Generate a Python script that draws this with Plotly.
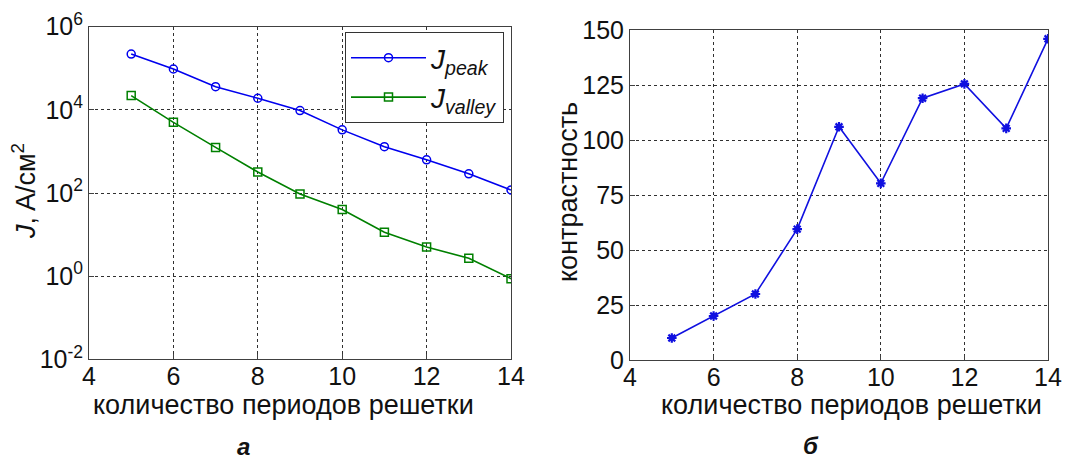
import plotly.graph_objects as go

periods = [5, 6, 7, 8, 9, 10, 11, 12, 13, 14]
j_peak = [2.2e5, 9.6e4, 3.6e4, 1.9e4, 9.6e3, 3.3e3, 1.3e3, 630, 290, 118]
j_valley = [2.2e4, 5.0e3, 1.25e3, 320, 95, 40, 11.4, 5.0, 2.7, 0.87]
contrast = [10, 20, 30, 59.5, 106, 80.3, 119, 125.5, 105.3, 146]

log_tickvals = [1e-2, 1, 1e2, 1e4, 1e6]
log_ticktext = ["10<sup>-2</sup>", "10<sup>0</sup>", "10<sup>2</sup>", "10<sup>4</sup>", "10<sup>6</sup>"]
x_ticks = [4, 6, 8, 10, 12, 14]
lin_ticks = [0, 25, 50, 75, 100, 125, 150]

x_title = "количество периодов решетки"
y1_title = "<i>J</i>, A/см<sup>2</sup>"
y2_title = "контрастность"

FONT = "Liberation Sans, Arial, sans-serif"
W, H = 1066, 460
TICK = 25
TITLE = 27
INK = "#111111"

fig = go.Figure()

fig.add_trace(go.Scatter(
    x=periods, y=j_peak, mode="lines+markers", name="<i>J<sub>peak</sub></i>",
    line=dict(color="#0000ee", width=1.6),
    marker=dict(symbol="circle-open", size=8, color="#0000ee", line=dict(width=1.5)),
    xaxis="x", yaxis="y"))
fig.add_trace(go.Scatter(
    x=periods, y=j_valley, mode="lines+markers", name="<i>J<sub>valley</sub></i>",
    line=dict(color="#008000", width=1.6),
    marker=dict(symbol="square-open", size=8, color="#008000", line=dict(width=1.5)),
    xaxis="x", yaxis="y"))
fig.add_trace(go.Scatter(
    x=periods, y=contrast, mode="lines+markers", showlegend=False,
    line=dict(color="#1010e0", width=1.6),
    marker=dict(symbol="asterisk-open", size=8, color="#1010e0", line=dict(width=2.2, color="#1010e0")),
    xaxis="x2", yaxis="y2"))

axis_common = dict(
    showline=True, mirror=True, linecolor="#404040", linewidth=1,
    showgrid=True, gridcolor="#303030", griddash="dot", gridwidth=1,
    ticks="inside", ticklen=5, tickcolor="#404040",
    zeroline=False, automargin=False,
    tickfont=dict(family=FONT, size=TICK, color=INK),
)
xaxis_extra = dict(ticklabelstandoff=-5)


def ann(text, x, y, size=TITLE, angle=0):
    return dict(text=text, x=x / W, y=1 - y / H, xref="paper", yref="paper",
                xanchor="center", yanchor="middle", showarrow=False, textangle=angle,
                font=dict(family=FONT, size=size, color=INK))


fig.update_layout(
    width=W, height=H,
    margin=dict(l=0, r=0, t=0, b=0),
    paper_bgcolor="white", plot_bgcolor="white",
    font=dict(family=FONT, size=22, color=INK),
    xaxis=dict(domain=[89 / W, 511 / W], range=[4, 14], tickvals=x_ticks, anchor="y",
               **axis_common, **xaxis_extra),
    yaxis=dict(domain=[1 - 359.3 / H, 1 - 26.7 / H], type="log", range=[-2, 6],
               tickvals=log_tickvals, ticktext=log_ticktext, anchor="x",
               **axis_common),
    xaxis2=dict(domain=[630 / W, 1048 / W], range=[4, 14], tickvals=x_ticks, anchor="y2",
                **axis_common, **xaxis_extra),
    yaxis2=dict(domain=[1 - 360 / H, 1 - 30 / H], range=[0, 150], tickvals=lin_ticks, anchor="x2",
                **axis_common),
    legend=dict(x=345 / W, y=1 - 32 / H, xanchor="left", yanchor="top",
                bgcolor="white", bordercolor="#333333", borderwidth=1,
                font=dict(family=FONT, size=28, color=INK),
                itemwidth=75, tracegroupgap=0),
    annotations=[
        ann(x_title, 283, 405),
        ann(x_title, 851, 405),
        ann(y1_title, 24, 191, angle=-90),
        ann(y2_title, 568, 192, angle=-90),
        ann("<b><i>а</i></b>", 243, 446, size=24),
        ann("<b><i>б</i></b>", 811, 445, size=24),
    ],
)

fig.write_html("out.html", config={"displayModeBar": False},
               post_script="document.body.style.margin='0';")
